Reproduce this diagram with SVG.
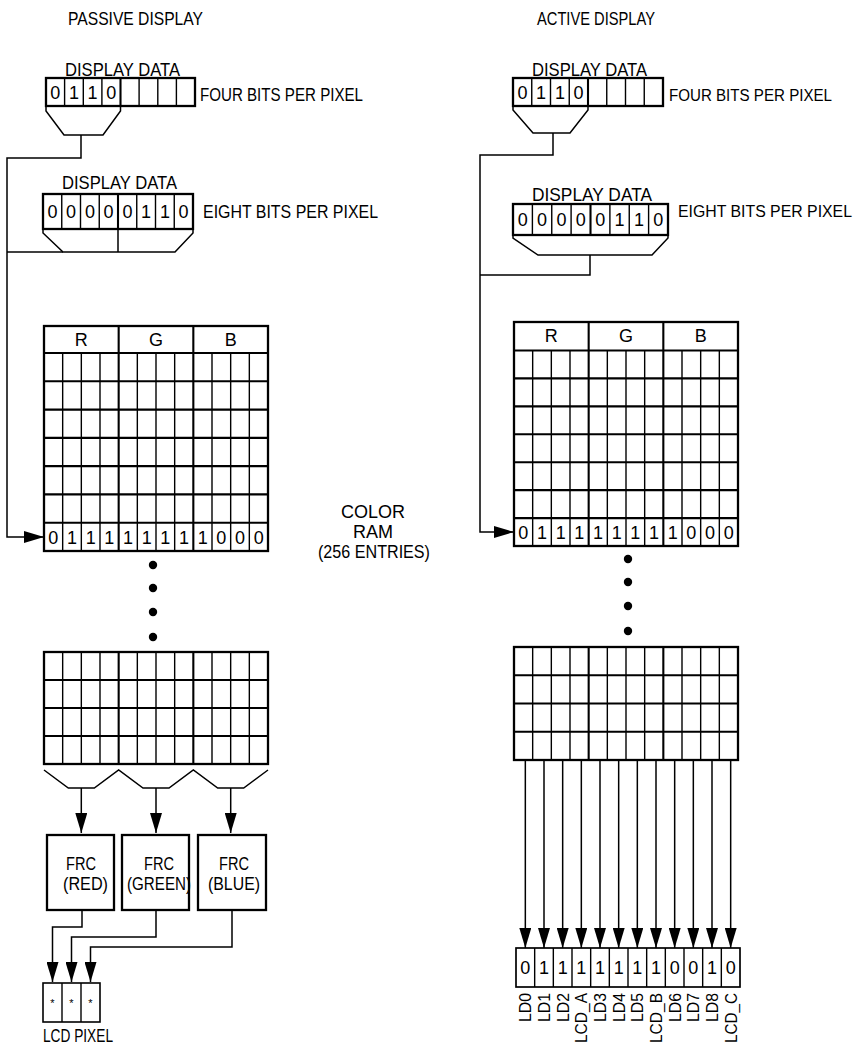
<svg xmlns="http://www.w3.org/2000/svg" width="858" height="1045" viewBox="0 0 858 1045">
<style>
  text{font-family:"Liberation Sans",Arial,Helvetica,sans-serif;fill:#000}
  .lb{font-size:18px}
  .lr{font-size:16px}
  .dg{font-size:18px;text-anchor:middle}
  .hd{font-size:18px;text-anchor:middle}
  .ld{font-size:17px}
  .ast{font-size:11px;text-anchor:middle}
  .box{fill:#fff;stroke:#000;stroke-width:2.3}
  .thk{fill:none;stroke:#000;stroke-width:2.1}
  .thn{fill:none;stroke:#000;stroke-width:1.4}
  .fn{fill:none;stroke:#000;stroke-width:1.5}
  .w{fill:none;stroke:#000;stroke-width:1.5}
  .wa{fill:none;stroke:#000;stroke-width:1.5;marker-end:url(#ah)}
  .dot{fill:#000}
</style>
<defs>
  <marker id="ah" viewBox="0 0 20 12" refX="20" refY="6" markerWidth="20" markerHeight="12" markerUnits="userSpaceOnUse" orient="auto">
    <path d="M0,0 L20,6 L0,12 z" fill="#000"/>
  </marker>
</defs>
<rect width="858" height="1045" fill="#fff"/>

<!-- titles -->
<g id="title-passive"><text class="lb" x="68" y="25" textLength="135" lengthAdjust="spacingAndGlyphs">PASSIVE DISPLAY</text></g>
<g id="title-active"><text class="lb" x="537" y="25" textLength="118" lengthAdjust="spacingAndGlyphs">ACTIVE DISPLAY</text></g>

<!-- PASSIVE four bits -->
<g id="passive-4bit">
  <text class="lb" x="65" y="76" textLength="115" lengthAdjust="spacingAndGlyphs">DISPLAY DATA</text>
  <rect class="box" x="46" y="78" width="149" height="28"/>
  <path class="thn" d="M64.6,78V106M83.3,78V106M101.9,78V106M139.1,78V106M157.8,78V106M176.4,78V106"/>
  <path class="thk" d="M120.5,78V106"/>
  <text class="dg" x="55.3" y="98.5">0</text><text class="dg" x="74" y="98.5">1</text><text class="dg" x="92.6" y="98.5">1</text><text class="dg" x="111.2" y="98.5">0</text>
  <path class="fn" d="M46,106V111L64,135H103L120.5,111V106"/>
  <text class="lb" x="200" y="101" textLength="163" lengthAdjust="spacingAndGlyphs">FOUR BITS PER PIXEL</text>
</g>

<!-- PASSIVE eight bits -->
<g id="passive-8bit">
  <text class="lb" x="62" y="189" textLength="115" lengthAdjust="spacingAndGlyphs">DISPLAY DATA</text>
  <rect class="box" x="43" y="194" width="150" height="35"/>
  <path class="thn" d="M61.75,194V229M80.5,194V229M99.25,194V229M136.75,194V229M155.5,194V229M174.25,194V229"/>
  <path class="thk" d="M118,194V229"/>
  <text class="dg" x="52.4" y="218">0</text><text class="dg" x="71.1" y="218">0</text><text class="dg" x="89.9" y="218">0</text><text class="dg" x="108.6" y="218">0</text>
  <text class="dg" x="127.4" y="218">0</text><text class="dg" x="146.1" y="218">1</text><text class="dg" x="164.9" y="218">1</text><text class="dg" x="183.6" y="218">0</text>
  <path class="fn" d="M43,229V233L63,252H175L193,233V229M118,229V252"/>
  <text class="lb" x="203" y="218" textLength="175" lengthAdjust="spacingAndGlyphs">EIGHT BITS PER PIXEL</text>
</g>

<!-- PASSIVE color RAM upper -->
<g id="passive-ram">
  <rect class="box" x="44" y="326" width="224" height="225"/>
  <path class="thn" d="M62.67,353V551M81.33,353V551M100,353V551M137.33,353V551M156,353V551M174.67,353V551M212,353V551M230.67,353V551M249.33,353V551"/>
  <path class="thk" d="M118.67,326V551M193.33,326V551M44,353H268M44,381.3H268M44,409.6H268M44,437.9H268M44,466.1H268M44,494.4H268M44,522.7H268"/>
  <text class="hd" x="81.3" y="346">R</text><text class="hd" x="156" y="346">G</text><text class="hd" x="230.7" y="346">B</text>
  <text class="dg" x="53.33" y="543.5">0</text><text class="dg" x="72" y="543.5">1</text><text class="dg" x="90.67" y="543.5">1</text><text class="dg" x="109.33" y="543.5">1</text>
  <text class="dg" x="128" y="543.5">1</text><text class="dg" x="146.67" y="543.5">1</text><text class="dg" x="165.33" y="543.5">1</text><text class="dg" x="184" y="543.5">1</text>
  <text class="dg" x="202.67" y="543.5">1</text><text class="dg" x="221.33" y="543.5">0</text><text class="dg" x="240" y="543.5">0</text><text class="dg" x="258.67" y="543.5">0</text>
</g>
<g id="passive-dots">
  <circle class="dot" cx="153" cy="565" r="4.2"/><circle class="dot" cx="153" cy="588" r="4.2"/><circle class="dot" cx="153" cy="612" r="4.2"/><circle class="dot" cx="153" cy="637" r="4.2"/>
</g>

<!-- PASSIVE color RAM lower -->
<g id="passive-ram-lower">
  <rect class="box" x="44" y="652" width="224" height="112"/>
  <path class="thn" d="M62.67,652V764M81.33,652V764M100,652V764M137.33,652V764M156,652V764M174.67,652V764M212,652V764M230.67,652V764M249.33,652V764"/>
  <path class="thk" d="M118.67,652V764M193.33,652V764M44,680H268M44,708H268M44,736H268"/>
  <path class="fn" d="M44,770L68.3,788H94.3L118.67,770L143,788H169L193.33,770L217.7,788H243.7L268,770"/>
</g>

<!-- FRC boxes -->
<g id="frc-red">
  <rect class="box" x="47" y="835" width="67" height="75"/>
  <text class="lb" x="66" y="870" textLength="30" lengthAdjust="spacingAndGlyphs">FRC</text>
  <text class="lb" x="63" y="890" textLength="45" lengthAdjust="spacingAndGlyphs">(RED)</text>
</g>
<g id="frc-green">
  <rect class="box" x="122" y="835" width="67" height="75"/>
  <text class="lb" x="144" y="870" textLength="30" lengthAdjust="spacingAndGlyphs">FRC</text>
  <text class="lb" x="127" y="890" textLength="64" lengthAdjust="spacingAndGlyphs">(GREEN)</text>
</g>
<g id="frc-blue">
  <rect class="box" x="198" y="835" width="68" height="75"/>
  <text class="lb" x="219" y="870" textLength="30" lengthAdjust="spacingAndGlyphs">FRC</text>
  <text class="lb" x="208" y="890" textLength="52" lengthAdjust="spacingAndGlyphs">(BLUE)</text>
</g>

<!-- LCD pixel -->
<g id="lcd-pixel">
  <rect x="43" y="983" width="57" height="39" fill="#fff" stroke="#000" stroke-width="1.6"/>
  <path class="thn" d="M62,983V1022M81,983V1022"/>
  <text class="ast" x="52.5" y="1007">*</text><text class="ast" x="71.5" y="1007">*</text><text class="ast" x="90.5" y="1007">*</text>
  <text class="lb" x="43" y="1042" textLength="70" lengthAdjust="spacingAndGlyphs">LCD PIXEL</text>
</g>

<!-- COLOR RAM label -->
<g id="color-ram-label">
  <text class="hd" x="373" y="518">COLOR</text>
  <text class="hd" x="373" y="538">RAM</text>
  <text class="lb" x="318" y="558" textLength="112" lengthAdjust="spacingAndGlyphs">(256 ENTRIES)</text>
</g>

<!-- ACTIVE four bits -->
<g id="active-4bit">
  <text class="lb" x="532" y="76" textLength="115" lengthAdjust="spacingAndGlyphs">DISPLAY DATA</text>
  <rect class="box" x="513" y="78" width="150" height="28"/>
  <path class="thn" d="M531.75,78V106M550.5,78V106M569.25,78V106M606.75,78V106M625.5,78V106M644.25,78V106"/>
  <path class="thk" d="M588,78V106"/>
  <text class="dg" x="522.4" y="98.5">0</text><text class="dg" x="541.1" y="98.5">1</text><text class="dg" x="559.9" y="98.5">1</text><text class="dg" x="578.6" y="98.5">0</text>
  <path class="fn" d="M513,106V110L533,133H570L588,110V106"/>
  <text class="lr" x="669" y="101" textLength="163" lengthAdjust="spacingAndGlyphs">FOUR BITS PER PIXEL</text>
</g>

<!-- ACTIVE eight bits -->
<g id="active-8bit">
  <text class="lb" x="532" y="201" textLength="120" lengthAdjust="spacingAndGlyphs">DISPLAY DATA</text>
  <rect class="box" x="513" y="204" width="155" height="31"/>
  <path class="thn" d="M532.4,204V235M551.75,204V235M571.1,204V235M609.9,204V235M629.25,204V235M648.6,204V235"/>
  <path class="thk" d="M590.5,204V235"/>
  <text class="dg" x="522.7" y="226">0</text><text class="dg" x="542.1" y="226">0</text><text class="dg" x="561.4" y="226">0</text><text class="dg" x="580.8" y="226">0</text>
  <text class="dg" x="600.2" y="226">0</text><text class="dg" x="619.6" y="226">1</text><text class="dg" x="638.9" y="226">1</text><text class="dg" x="658.3" y="226">0</text>
  <path class="fn" d="M513,235V238L538,255H652L668,238V235"/>
  <text class="lr" x="678" y="217" textLength="174" lengthAdjust="spacingAndGlyphs">EIGHT BITS PER PIXEL</text>
</g>

<!-- ACTIVE color RAM upper -->
<g id="active-ram">
  <rect class="box" x="514" y="322" width="224" height="224"/>
  <path class="thn" d="M532.67,350.5V546M551.33,350.5V546M570,350.5V546M607.33,350.5V546M626,350.5V546M644.67,350.5V546M682,350.5V546M700.67,350.5V546M719.33,350.5V546"/>
  <path class="thk" d="M588.67,322V546M663.33,322V546M514,350.5H738M514,378.4H738M514,406.4H738M514,434.3H738M514,462.2H738M514,490.1H738M514,518.1H738"/>
  <text class="hd" x="551.3" y="342">R</text><text class="hd" x="626" y="342">G</text><text class="hd" x="700.7" y="342">B</text>
  <text class="dg" x="523.33" y="538.5">0</text><text class="dg" x="542" y="538.5">1</text><text class="dg" x="560.67" y="538.5">1</text><text class="dg" x="579.33" y="538.5">1</text>
  <text class="dg" x="598" y="538.5">1</text><text class="dg" x="616.67" y="538.5">1</text><text class="dg" x="635.33" y="538.5">1</text><text class="dg" x="654" y="538.5">1</text>
  <text class="dg" x="672.67" y="538.5">1</text><text class="dg" x="691.33" y="538.5">0</text><text class="dg" x="710" y="538.5">0</text><text class="dg" x="728.67" y="538.5">0</text>
</g>
<g id="active-dots">
  <circle class="dot" cx="628" cy="559" r="4.2"/><circle class="dot" cx="628" cy="582" r="4.2"/><circle class="dot" cx="628" cy="606" r="4.2"/><circle class="dot" cx="628" cy="631" r="4.2"/>
</g>

<!-- ACTIVE color RAM lower -->
<g id="active-ram-lower">
  <rect class="box" x="514" y="647" width="224" height="113"/>
  <path class="thn" d="M532.67,647V760M551.33,647V760M570,647V760M607.33,647V760M626,647V760M644.67,647V760M682,647V760M700.67,647V760M719.33,647V760"/>
  <path class="thk" d="M588.67,647V760M663.33,647V760M514,675.25H738M514,703.5H738M514,731.75H738"/>
</g>

<!-- LD register -->
<g id="ld-register">
  <rect x="516" y="948" width="224" height="39" fill="#fff" stroke="#000" stroke-width="1.7"/>
  <path class="thn" d="M534.67,948V987M553.33,948V987M572,948V987M590.67,948V987M609.33,948V987M628,948V987M646.67,948V987M665.33,948V987M684,948V987M702.67,948V987M721.33,948V987"/>
  <text class="dg" x="525.33" y="974">0</text><text class="dg" x="544" y="974">1</text><text class="dg" x="562.67" y="974">1</text><text class="dg" x="581.33" y="974">1</text>
  <text class="dg" x="600" y="974">1</text><text class="dg" x="618.67" y="974">1</text><text class="dg" x="637.33" y="974">1</text><text class="dg" x="656" y="974">1</text>
  <text class="dg" x="674.67" y="974">0</text><text class="dg" x="693.33" y="974">0</text><text class="dg" x="712" y="974">1</text><text class="dg" x="730.67" y="974">0</text>
  <text class="ld" transform="translate(531.3,1022) rotate(-90)" textLength="29" lengthAdjust="spacingAndGlyphs">LD0</text>
  <text class="ld" transform="translate(550,1022) rotate(-90)" textLength="29" lengthAdjust="spacingAndGlyphs">LD1</text>
  <text class="ld" transform="translate(568.7,1022) rotate(-90)" textLength="29" lengthAdjust="spacingAndGlyphs">LD2</text>
  <text class="ld" transform="translate(587.3,1043) rotate(-90)" textLength="50" lengthAdjust="spacingAndGlyphs">LCD_A</text>
  <text class="ld" transform="translate(606,1022) rotate(-90)" textLength="29" lengthAdjust="spacingAndGlyphs">LD3</text>
  <text class="ld" transform="translate(624.7,1022) rotate(-90)" textLength="29" lengthAdjust="spacingAndGlyphs">LD4</text>
  <text class="ld" transform="translate(643.3,1022) rotate(-90)" textLength="29" lengthAdjust="spacingAndGlyphs">LD5</text>
  <text class="ld" transform="translate(662,1043) rotate(-90)" textLength="50" lengthAdjust="spacingAndGlyphs">LCD_B</text>
  <text class="ld" transform="translate(680.7,1022) rotate(-90)" textLength="29" lengthAdjust="spacingAndGlyphs">LD6</text>
  <text class="ld" transform="translate(699.3,1022) rotate(-90)" textLength="29" lengthAdjust="spacingAndGlyphs">LD7</text>
  <text class="ld" transform="translate(718,1022) rotate(-90)" textLength="29" lengthAdjust="spacingAndGlyphs">LD8</text>
  <text class="ld" transform="translate(736.7,1043) rotate(-90)" textLength="50" lengthAdjust="spacingAndGlyphs">LCD_C</text>
</g>

<!-- connectors -->
<g id="connectors">
  <path class="wa" d="M81,135V158H7V537H44"/>
  <path class="w" d="M63,252H7"/>
  <path class="wa" d="M81.3,788V833"/>
  <path class="wa" d="M156,788V833"/>
  <path class="wa" d="M230.7,788V833"/>
  <path class="wa" d="M82,910V927H52.5V982"/>
  <path class="wa" d="M156,910V937H71.5V982"/>
  <path class="wa" d="M232,910V947H90.5V982"/>
  <path class="wa" d="M553,133V155H480V532H514"/>
  <path class="w" d="M590,255V275H480"/>
  <path class="wa" d="M525.33,760V948"/>
  <path class="wa" d="M544,760V948"/>
  <path class="wa" d="M562.67,760V948"/>
  <path class="wa" d="M581.33,760V948"/>
  <path class="wa" d="M600,760V948"/>
  <path class="wa" d="M618.67,760V948"/>
  <path class="wa" d="M637.33,760V948"/>
  <path class="wa" d="M656,760V948"/>
  <path class="wa" d="M674.67,760V948"/>
  <path class="wa" d="M693.33,760V948"/>
  <path class="wa" d="M712,760V948"/>
  <path class="wa" d="M730.67,760V948"/>
</g>
</svg>
